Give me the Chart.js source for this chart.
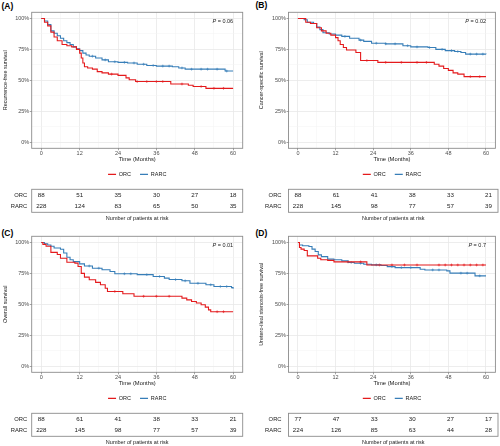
<!DOCTYPE html>
<html>
<head>
<meta charset="utf-8">
<script src="https://cdn.jsdelivr.net/npm/chart.js@4.4.1/dist/chart.umd.min.js"></script>
<style>
html, body { margin: 0; padding: 0; background: #fff; }
body { width: 500px; height: 446px; position: relative; overflow: hidden; font-family: 'Liberation Sans', Arial, sans-serif; }
.box { position: absolute; }
.tag { position: absolute; font-weight: bold; font-size: 8.5px; line-height: 1; color: #000; }
</style>
</head>
<body>
<div class="tag" style="left:1.5px;top:1.5px">(A)</div>
<div class="tag" style="left:255.5px;top:1px">(B)</div>
<div class="tag" style="left:1.5px;top:229px">(C)</div>
<div class="tag" style="left:255.5px;top:229px">(D)</div>

<div class="box" style="left:0;top:0;width:250px;height:185px"><canvas id="kmA"></canvas></div>
<div class="box" style="left:0;top:185px;width:250px;height:40px"><canvas id="rkA"></canvas></div>
<div class="box" style="left:250px;top:0;width:250px;height:185px"><canvas id="kmB"></canvas></div>
<div class="box" style="left:250px;top:185px;width:250px;height:40px"><canvas id="rkB"></canvas></div>
<div class="box" style="left:0;top:224px;width:250px;height:185px"><canvas id="kmC"></canvas></div>
<div class="box" style="left:0;top:409px;width:250px;height:40px"><canvas id="rkC"></canvas></div>
<div class="box" style="left:250px;top:224px;width:250px;height:185px"><canvas id="kmD"></canvas></div>
<div class="box" style="left:250px;top:409px;width:250px;height:40px"><canvas id="rkD"></canvas></div>

<script>
// columns of the number-at-risk tables (months)
const riskTimes = [0, 12, 24, 36, 48, 60];
const riskRows = ['ORC', 'RARC'];
const xTicks = [0, 6, 12, 18, 24, 30, 36, 42, 48, 54, 60];
const yTicks = [0, 12.5, 25, 37.5, 50, 62.5, 75, 87.5, 100];

// (A) recurrence-free survival, % at each step time
const rfsOrcT = [0, 1, 2, 3, 4, 5, 6.5, 8, 9.5, 11, 12, 12.5, 13, 13.5, 14.5, 16, 17.5, 19, 21, 24, 26.5, 27.5, 29.5, 40.5, 46, 47.5, 51.5, 60];
const rfsOrcS = [100, 97, 94, 89, 85, 82, 79, 78, 77, 75, 72, 68, 64, 61, 60, 59, 57, 56, 55, 54, 52, 50.5, 49, 47, 46, 45, 43.5, 43.5];
const rfsOrcCens = [22, 30, 33, 36, 38, 44, 50, 54, 57];
const rfsRarcT = [0, 1, 2, 3, 4, 5, 6, 7, 8, 9, 10, 11, 12, 13, 14, 15, 17, 19, 21, 24, 27, 30, 33, 36, 41, 43, 45, 57.5, 60];
const rfsRarcS = [100, 98, 95, 90, 88, 86, 84, 82, 80.5, 79, 77, 75.5, 74, 72, 70.5, 69.5, 68, 66.5, 65, 64.5, 64, 63, 62, 61.5, 61, 60, 59, 57.5, 57.5];
const rfsRarcCens = [16, 20, 23, 26, 29, 32, 35, 38, 40, 44, 47, 50, 52, 55, 58];
const rfsOrcRisk = [88, 51, 35, 30, 27, 18];
const rfsRarcRisk = [228, 124, 83, 65, 50, 35];

// (B) cancer-specific survival
const cssOrcT = [0, 2.5, 4, 6, 7.5, 9, 10.5, 12, 12.8, 13.5, 14.5, 15.5, 18.5, 20, 25.5, 43.5, 45, 46.5, 48, 49.5, 51, 53, 60];
const cssOrcS = [100, 97, 96, 92.5, 90, 88, 86.5, 84.5, 82, 79, 76.5, 74.5, 72.5, 66, 64.5, 63, 61.5, 59.5, 58, 56, 55, 53, 53];
const cssOrcCens = [22, 28, 33, 38, 41, 55, 58];
const cssRarcT = [0, 2, 3, 5, 6, 7, 8, 10, 12, 14, 16.5, 19.5, 21, 23.5, 28, 33.5, 36, 41.5, 44, 47, 50, 52, 53.5, 60];
const cssRarcS = [100, 99, 97, 96, 93, 91, 88.5, 87.5, 86.5, 85.5, 84, 82.5, 81.5, 80, 79.5, 78, 77, 76.5, 75, 74, 73.3, 72.5, 71.2, 71];
const cssRarcCens = [15, 20, 25, 28, 31, 35, 38, 42, 46, 49, 51, 55, 57, 59];
const cssOrcRisk = [88, 61, 41, 38, 33, 21];
const cssRarcRisk = [228, 145, 98, 77, 57, 39];

// (C) overall survival
const osOrcT = [0, 0.5, 1.5, 3, 5, 6, 8, 10.5, 11.5, 12.5, 13.5, 15, 17, 18.5, 20, 20.7, 25.5, 29, 44, 45.5, 47, 48.5, 50, 51.3, 52.3, 53, 60];
const osOrcS = [100, 98.5, 97, 92, 90.3, 87.3, 84, 83.3, 80.6, 75, 72, 69.8, 67.7, 65.8, 63, 60.4, 58.5, 56.5, 55, 53.6, 52.3, 51, 49.6, 47.7, 45.5, 44, 44];
const osOrcCens = [23, 32, 36, 40, 55, 57];
const osRarcT = [0, 1, 2, 3, 4, 6, 7, 8, 9, 10, 12, 13.5, 16, 19, 21.5, 23, 30, 35, 38.5, 40, 44, 46.5, 51.5, 54, 59.5, 60];
const osRarcS = [100, 99, 98, 97, 95.5, 94.5, 91.5, 88, 86, 84.5, 82.7, 81, 79.2, 78, 76.5, 74.7, 74, 72.5, 71.2, 70, 69, 67, 65.8, 64.4, 63.5, 62.5];
const osRarcCens = [15, 18, 26, 28, 33, 37, 42, 45, 49, 53, 56, 58];
const osOrcRisk = [88, 61, 41, 38, 33, 21];
const osRarcRisk = [228, 145, 98, 77, 57, 39];

// (D) uretero-ileal stenosis-free survival
const uisOrcT = [0, 0.5, 1, 2, 3, 6.3, 7.3, 9.5, 11.5, 22, 60];
const uisOrcS = [100, 96, 94.6, 93.5, 89.2, 87.3, 86, 85.5, 84.3, 81.8, 81.8];
const uisOrcCens = [16, 20, 26, 30, 34, 38, 45, 47, 49, 51, 53, 55, 57, 59];
const uisRarcT = [0, 0.5, 1.5, 3.5, 4.5, 5.5, 6.5, 7.5, 9.5, 11.5, 14, 16, 18, 21, 23.5, 26.5, 28.5, 31, 39, 40.5, 47.5, 48.5, 56.5, 60];
const uisRarcS = [100, 98, 97.3, 96.8, 94.6, 92.7, 90, 88.6, 86.5, 86, 85.1, 83.8, 83.2, 82.4, 81.9, 81.4, 80.5, 79.7, 78.4, 77.8, 77, 75.2, 73, 73];
const uisRarcCens = [17, 20, 25, 30, 33, 36, 43, 45, 52, 54, 58];
const uisOrcRisk = [77, 47, 33, 30, 27, 17];
const uisRarcRisk = [224, 126, 85, 63, 44, 28];

const RED = '#E41A1C';
const BLUE = '#377EB8';
const TXT = '#1a1a1a';
const FONT = "'Liberation Sans', Arial, sans-serif";
Chart.defaults.font.family = FONT;

function steps(times, surv) {
    return times.map((t, i) => ({x: t, y: surv[i]}));
}

// place censor marks on the step curve
function censorPts(times, surv, cens) {
    return cens.map(c => {
        let y = surv[0];
        for (let i = 0; i < times.length; i++) {
            if (times[i] <= c) y = surv[i];
        }
        return {x: c, y: y};
    });
}

const framePlugin = {
    id: 'frame',
    afterDatasetsDraw(chart) {
        const a = chart.chartArea;
        const ctx = chart.ctx;
        ctx.save();
        ctx.strokeStyle = '#8c8c8c';
        ctx.lineWidth = 0.9;
        ctx.strokeRect(a.left, a.top, a.right - a.left, a.bottom - a.top);
        ctx.restore();
    }
};

const pvalPlugin = {
    id: 'pval',
    afterDraw(chart, args, opts) {
        if (!opts.text) return;
        const ctx = chart.ctx;
        const x = chart.scales.x.getPixelForValue(60);
        const y = chart.scales.y.getPixelForValue(97.5);
        ctx.save();
        ctx.fillStyle = TXT;
        ctx.textBaseline = 'middle';
        ctx.textAlign = 'right';
        ctx.font = '5.5px ' + FONT;
        const rest = ' = ' + opts.text;
        const w = ctx.measureText(rest).width;
        ctx.fillText(rest, x, y);
        ctx.font = 'italic 5.5px ' + FONT;
        ctx.fillText('P', x - w, y);
        ctx.restore();
    }
};

const riskPlugin = {
    id: 'riskNums',
    afterDatasetsDraw(chart) {
        const ctx = chart.ctx;
        ctx.save();
        ctx.font = '6.2px ' + FONT;
        ctx.fillStyle = TXT;
        ctx.textAlign = 'center';
        ctx.textBaseline = 'middle';
        chart.data.datasets.forEach((ds, di) => {
            chart.getDatasetMeta(di).data.forEach((pt, i) => {
                ctx.fillText(String(ds.data[i].n), pt.x, pt.y);
            });
        });
        ctx.restore();
    }
};

function drawKm(id, c) {
    new Chart(document.getElementById(id), {
        type: 'line',
        data: {
            datasets: [
                {label: 'ORC', data: steps(c.orcT, c.orcS), stepped: true, borderColor: RED, backgroundColor: RED, borderWidth: 1.1, pointRadius: 0},
                {label: 'RARC', data: steps(c.rarcT, c.rarcS), stepped: true, borderColor: BLUE, backgroundColor: BLUE, borderWidth: 1.1, pointRadius: 0},
                {label: 'ORC censored', type: 'scatter', data: censorPts(c.orcT, c.orcS, c.orcC), pointStyle: 'cross', pointRadius: 1.4, borderColor: RED, borderWidth: 0.6},
                {label: 'RARC censored', type: 'scatter', data: censorPts(c.rarcT, c.rarcS, c.rarcC), pointStyle: 'cross', pointRadius: 1.4, borderColor: BLUE, borderWidth: 0.6}
            ]
        },
        options: {
            responsive: true,
            maintainAspectRatio: false,
            animation: false,
            events: [],
            layout: {padding: {left: 0, top: 12.3, right: c.rightPad, bottom: 0.4}},
            plugins: {
                tooltip: {enabled: false},
                pval: {text: c.p},
                legend: {
                    position: 'bottom',
                    fullSize: false,
                    maxHeight: 22,
                    labels: {
                        usePointStyle: true,
                        pointStyle: 'line',
                        pointStyleWidth: 8,
                        padding: 9,
                        color: TXT,
                        font: {size: 5.5},
                        filter: item => item.datasetIndex < 2
                    }
                }
            },
            scales: {
                x: {
                    type: 'linear',
                    min: -3,
                    max: 63,
                    afterBuildTicks: s => { s.ticks = xTicks.map(v => ({value: v})); },
                    afterFit: s => { s.height = 14.3; },
                    ticks: {autoSkip: false, maxRotation: 0, padding: 0, color: '#4d4d4d', font: {size: 5.5},
                        callback: v => (v % 12 === 0 ? String(v) : '')},
                    grid: {
                        color: ctx => (ctx.tick && ctx.tick.value % 12 === 0 ? '#e8e8e8' : '#f3f3f3'),
                        lineWidth: ctx => (ctx.tick && ctx.tick.value % 12 === 0 ? 0.8 : 0.5),
                        tickColor: ctx => (ctx.tick && ctx.tick.value % 12 === 0 ? '#666' : 'rgba(0,0,0,0)'),
                        tickLength: 2,
                        tickWidth: 0.6
                    },
                    border: {display: false},
                    title: {display: true, text: 'Time (Months)', color: TXT, font: {size: 5.8}, padding: 0}
                },
                y: {
                    type: 'linear',
                    min: -5,
                    max: 105,
                    afterBuildTicks: s => { s.ticks = yTicks.map(v => ({value: v})); },
                    afterFit: s => { s.width = c.axisW; },
                    ticks: {autoSkip: false, padding: 0.5, color: '#4d4d4d', font: {size: 5.5},
                        callback: v => (v % 25 === 0 ? v + '%' : '')},
                    grid: {
                        color: ctx => (ctx.tick && ctx.tick.value % 25 === 0 ? '#e8e8e8' : '#f3f3f3'),
                        lineWidth: ctx => (ctx.tick && ctx.tick.value % 25 === 0 ? 0.8 : 0.5),
                        tickColor: ctx => (ctx.tick && ctx.tick.value % 25 === 0 ? '#666' : 'rgba(0,0,0,0)'),
                        tickLength: 2,
                        tickWidth: 0.6
                    },
                    border: {display: false},
                    title: {display: true, text: c.yTitle, color: TXT, font: {size: 5.5}, padding: {top: c.titlePad, bottom: 0}}
                }
            }
        },
        plugins: [framePlugin, pvalPlugin]
    });
}

function drawRisk(id, c) {
    new Chart(document.getElementById(id), {
        type: 'scatter',
        data: {
            datasets: [
                {label: 'ORC', data: riskTimes.map((t, i) => ({x: t, y: 'ORC', n: c.orc[i]})), pointRadius: 0},
                {label: 'RARC', data: riskTimes.map((t, i) => ({x: t, y: 'RARC', n: c.rarc[i]})), pointRadius: 0}
            ]
        },
        options: {
            responsive: true,
            maintainAspectRatio: false,
            animation: false,
            events: [],
            layout: {padding: {left: 0, top: 4.3, right: c.rightPad, bottom: 3.4}},
            plugins: {legend: {display: false}, tooltip: {enabled: false}},
            scales: {
                x: {
                    type: 'linear',
                    min: -3,
                    max: 63,
                    ticks: {display: false},
                    grid: {display: false, drawTicks: false},
                    border: {display: false},
                    afterFit: s => { s.height = 9.3; },
                    title: {display: true, text: 'Number of patients at risk', color: TXT, font: {size: 5.5}, padding: 0}
                },
                y: {
                    type: 'category',
                    labels: riskRows,
                    offset: true,
                    // invisible tick marks keep the row labels away from the box
                    grid: {display: true, drawOnChartArea: false, drawTicks: true, tickLength: c.labelPad, color: 'rgba(0,0,0,0)', tickColor: 'rgba(0,0,0,0)'},
                    border: {display: false},
                    afterFit: s => { s.width = c.axisW; },
                    ticks: {autoSkip: false, color: TXT, font: {size: 5.8}, padding: 0}
                }
            }
        },
        plugins: [framePlugin, riskPlugin]
    });
}

const left = {axisW: 31.7, rightPad: 7.3, titlePad: 1.7, labelPad: 4.5};
const right = {axisW: 38.5, rightPad: 2, titlePad: 8.4, labelPad: 7};

drawKm('kmA', Object.assign({orcT: rfsOrcT, orcS: rfsOrcS, orcC: rfsOrcCens, rarcT: rfsRarcT, rarcS: rfsRarcS, rarcC: rfsRarcCens,
    yTitle: 'Recurrence-free survival', p: '0.06'}, left));
drawRisk('rkA', Object.assign({orc: rfsOrcRisk, rarc: rfsRarcRisk}, left));

drawKm('kmB', Object.assign({orcT: cssOrcT, orcS: cssOrcS, orcC: cssOrcCens, rarcT: cssRarcT, rarcS: cssRarcS, rarcC: cssRarcCens,
    yTitle: 'Cancer-specific survival', p: '0.02'}, right));
drawRisk('rkB', Object.assign({orc: cssOrcRisk, rarc: cssRarcRisk}, right));

drawKm('kmC', Object.assign({orcT: osOrcT, orcS: osOrcS, orcC: osOrcCens, rarcT: osRarcT, rarcS: osRarcS, rarcC: osRarcCens,
    yTitle: 'Overall survival', p: '0.01'}, left));
drawRisk('rkC', Object.assign({orc: osOrcRisk, rarc: osRarcRisk}, left));

drawKm('kmD', Object.assign({orcT: uisOrcT, orcS: uisOrcS, orcC: uisOrcCens, rarcT: uisRarcT, rarcS: uisRarcS, rarcC: uisRarcCens,
    yTitle: 'Uretero-ileal stenosis-free survival', p: '0.7'}, right));
drawRisk('rkD', Object.assign({orc: uisOrcRisk, rarc: uisRarcRisk}, right));
</script>
</body>
</html>
